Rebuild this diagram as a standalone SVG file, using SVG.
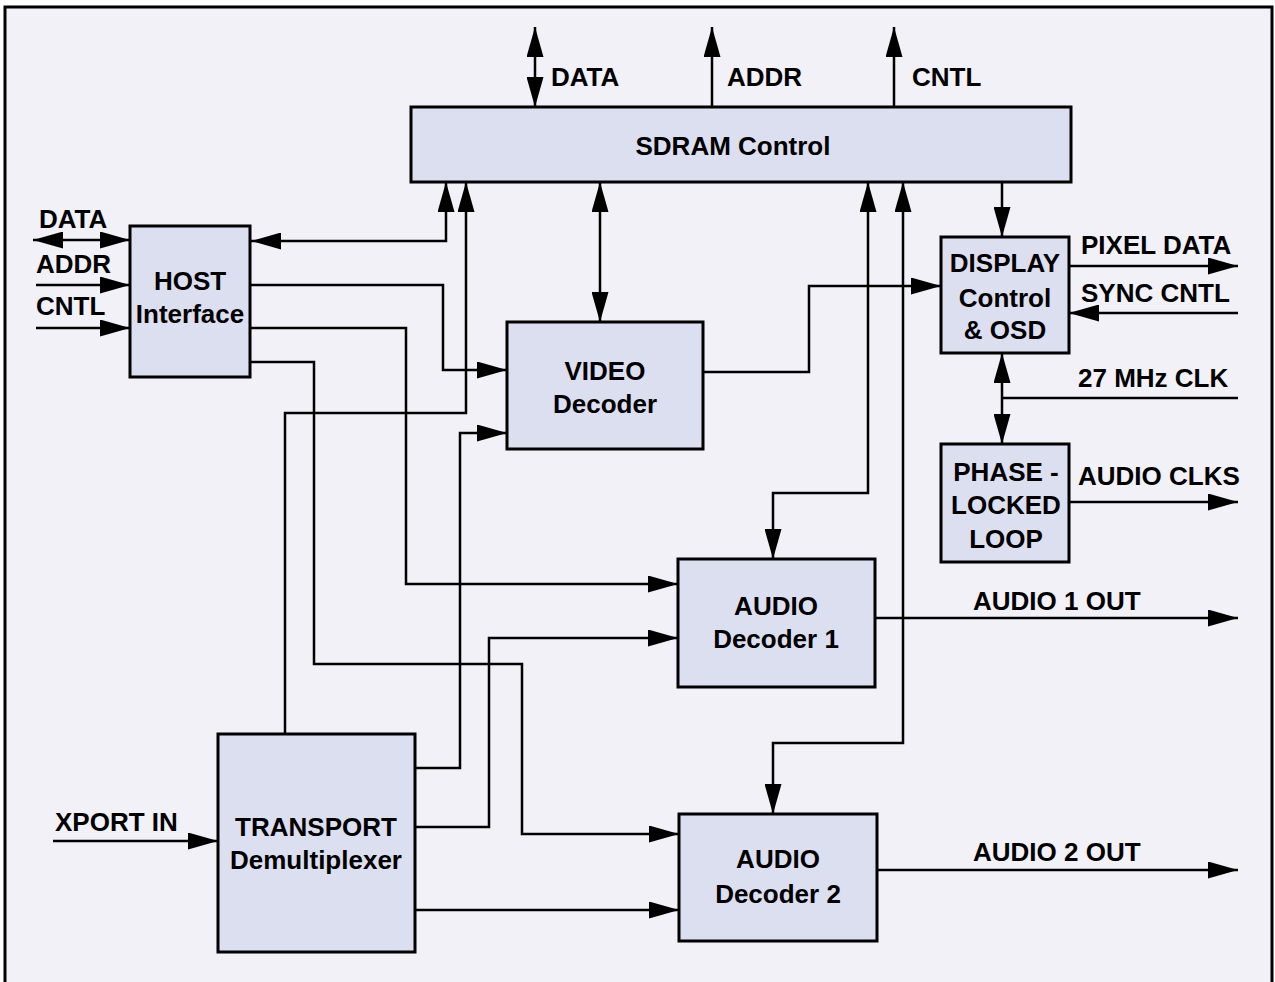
<svg xmlns="http://www.w3.org/2000/svg" width="1275" height="982" viewBox="0 0 1275 982">
<defs>
<style>
.frame{fill:#f1f1f7;stroke:#000;stroke-width:3}
.box{fill:#dcdff0;stroke:#000;stroke-width:3}
.ln{fill:none;stroke:#000;stroke-width:2.5}
.a{marker-end:url(#ah)}
.b{marker-start:url(#ah);marker-end:url(#ah)}
text{font-family:"Liberation Sans",Arial,sans-serif;font-weight:bold;font-size:26px;fill:#000}
.c{text-anchor:middle}
</style>
<marker id="ah" markerUnits="userSpaceOnUse" markerWidth="30" markerHeight="17" viewBox="0 0 30 17" refX="30" refY="8.5" orient="auto-start-reverse">
<path d="M0,0 L30,8.5 L0,17 Z" fill="#000"/>
</marker>
</defs>
<rect class="frame" x="5" y="7" width="1267" height="990"/>

<g id="connectors">
<path class="ln b" d="M535,27 V107"/>
<path class="ln a" d="M712,107 V27"/>
<path class="ln a" d="M894,107 V27"/>
<path class="ln b" d="M33,240 H130"/>
<path class="ln a" d="M36,285 H130"/>
<path class="ln a" d="M36,328 H130"/>
<path class="ln b" d="M251,241 H446 V182"/>
<path class="ln a" d="M250,285 H443 V370 H507"/>
<path class="ln a" d="M250,328 H406 V584 H678"/>
<path class="ln a" d="M250,362 H314 V664 H522 V834 H679"/>
<path class="ln a" d="M285,734 V413 H466 V182"/>
<path class="ln a" d="M415,768 H460 V433 H507"/>
<path class="ln a" d="M415,827 H489 V638 H678"/>
<path class="ln a" d="M415,910 H679"/>
<path class="ln b" d="M600,182 V322"/>
<path class="ln a" d="M703,372 H809 V286 H941"/>
<path class="ln b" d="M868,182 V493 H773 V559"/>
<path class="ln b" d="M903,182 V743 H773 V814"/>
<path class="ln a" d="M1002,182 V237"/>
<path class="ln a" d="M1069,266 H1238"/>
<path class="ln a" d="M1238,313 H1069"/>
<path class="ln b" d="M1002,353 V444"/>
<path class="ln" d="M1002,398 H1238"/>
<path class="ln a" d="M1069,502 H1238"/>
<path class="ln a" d="M875,618 H1238"/>
<path class="ln a" d="M877,870 H1238"/>
<path class="ln a" d="M53,841 H218"/>
</g>

<g id="labels">
<text x="551" y="86">DATA</text>
<text x="727" y="86">ADDR</text>
<text x="912" y="86">CNTL</text>
<text x="39" y="228">DATA</text>
<text x="36" y="273">ADDR</text>
<text x="36" y="315">CNTL</text>
<text x="1081" y="254">PIXEL DATA</text>
<text x="1081" y="302">SYNC CNTL</text>
<text x="1078" y="387">27 MHz CLK</text>
<text x="1078" y="485">AUDIO CLKS</text>
<text x="973" y="610">AUDIO 1 OUT</text>
<text x="973" y="861">AUDIO 2 OUT</text>
<text x="55" y="831">XPORT IN</text>
</g>

<g id="sdram">
<rect class="box" x="411" y="107" width="660" height="75"/>
<text class="c" x="733" y="155">SDRAM Control</text>
</g>
<g id="host">
<rect class="box" x="130" y="226" width="120" height="151"/>
<text class="c" x="190" y="290">HOST</text>
<text class="c" x="190" y="323">Interface</text>
</g>
<g id="video">
<rect class="box" x="507" y="322" width="196" height="127"/>
<text class="c" x="605" y="380">VIDEO</text>
<text class="c" x="605" y="413">Decoder</text>
</g>
<g id="display">
<rect class="box" x="941" y="237" width="128" height="116"/>
<text class="c" x="1005" y="272">DISPLAY</text>
<text class="c" x="1005" y="307">Control</text>
<text class="c" x="1005" y="339">&amp; OSD</text>
</g>
<g id="pll">
<rect class="box" x="941" y="444" width="128" height="118"/>
<text class="c" x="1006" y="481">PHASE -</text>
<text class="c" x="1006" y="514">LOCKED</text>
<text class="c" x="1006" y="548">LOOP</text>
</g>
<g id="audio1">
<rect class="box" x="678" y="559" width="197" height="128"/>
<text class="c" x="776" y="615">AUDIO</text>
<text class="c" x="776" y="648">Decoder 1</text>
</g>
<g id="audio2">
<rect class="box" x="679" y="814" width="198" height="127"/>
<text class="c" x="778" y="868">AUDIO</text>
<text class="c" x="778" y="903">Decoder 2</text>
</g>
<g id="transport">
<rect class="box" x="218" y="734" width="197" height="218"/>
<text class="c" x="316" y="836">TRANSPORT</text>
<text class="c" x="316" y="869">Demultiplexer</text>
</g>
</svg>
